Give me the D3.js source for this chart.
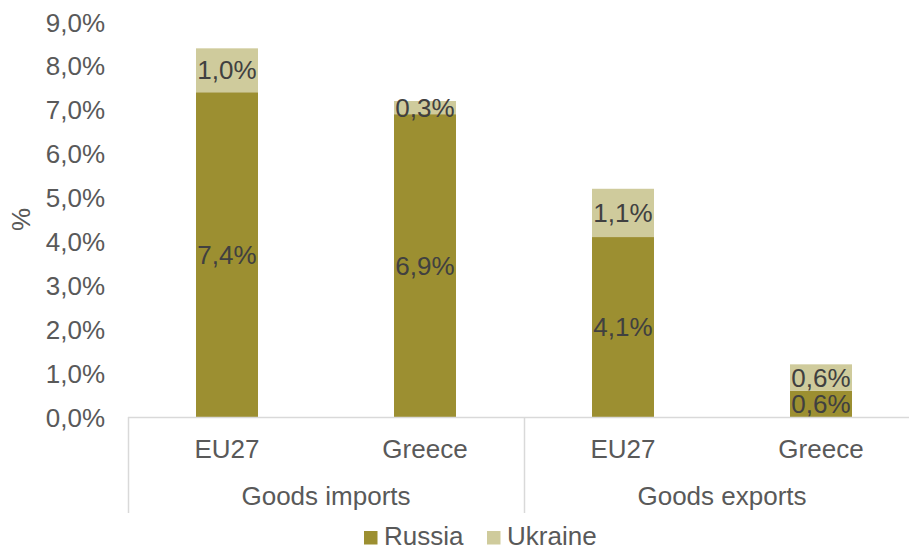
<!DOCTYPE html>
<html>
<head>
<meta charset="utf-8">
<script src="https://cdn.jsdelivr.net/npm/d3@7"></script>
<style>
  html, body { margin: 0; padding: 0; background: #fff; }
  svg { display: block; font-family: "Liberation Sans", Arial, sans-serif; }
</style>
</head>
<body>
<svg id="chart" width="909" height="550"></svg>
<script>
// Share of trade with Russia and Ukraine (% of total goods trade)
const groups = ["Goods imports", "Goods exports"];
const categories = ["EU27", "Greece", "EU27", "Greece"];
const groupOf = [0, 0, 1, 1];
const russia = [7.4, 6.9, 4.1, 0.6];
const ukraine = [1.0, 0.3, 1.1, 0.6];
const seriesNames = ["Russia", "Ukraine"];
const yTicks = [0, 1, 2, 3, 4, 5, 6, 7, 8, 9];

const colors = { Russia: "#9c8f31", Ukraine: "#cfcb9c" };
const axisText = "#595959";
const labelText = "#404040";
const fontSize = "26px";

const svg = d3.select("#chart");
const plot = { left: 128, right: 920, top: 22, bottom: 417 };

const rows = categories.map((c, i) => ({ key: i, cat: c, group: groupOf[i], Russia: russia[i], Ukraine: ukraine[i] }));
const stacked = d3.stack().keys(seriesNames)(rows);

const x = d3.scaleBand().domain(rows.map(d => d.key)).range([plot.left, plot.right]).paddingInner(0.687).paddingOuter(0.3435);
const y = d3.scaleLinear().domain([0, 9]).range([plot.bottom, plot.top]);
const fmt = v => d3.format(".1f")(v).replace(".", ",") + "%";

// Y axis labels
const yAxis = d3.axisLeft(y).tickValues(yTicks).tickFormat(fmt).tickSize(0).tickPadding(0);
const gy = svg.append("g").attr("transform", "translate(105,0)").call(yAxis);
gy.select(".domain").remove();
gy.selectAll("text").attr("fill", axisText).style("font-size", fontSize)
  .attr("font-family", "Liberation Sans, Arial, sans-serif").attr("dy", "0.35em");

// Y axis title
svg.append("text").attr("transform", `translate(30,${(plot.top + plot.bottom) / 2}) rotate(-90)`)
  .attr("text-anchor", "middle").attr("fill", axisText).style("font-size", fontSize).text("%");

// Bars
const layer = svg.append("g").selectAll("g").data(stacked).join("g")
  .attr("fill", d => colors[d.key]);
layer.selectAll("rect").data(d => d).join("rect")
  .attr("x", d => x(d.data.key))
  .attr("width", x.bandwidth())
  .attr("y", d => y(d[1]))
  .attr("height", d => y(d[0]) - y(d[1]));

// Data labels
const lbl = svg.append("g");
stacked.forEach(s => {
  s.forEach(d => {
    lbl.append("text")
      .attr("x", x(d.data.key) + x.bandwidth() / 2)
      .attr("y", (y(d[0]) + y(d[1])) / 2)
      .attr("dy", "0.35em")
      .attr("text-anchor", "middle")
      .attr("fill", labelText)
      .style("font-size", fontSize)
      .text(fmt(d[1] - d[0]));
  });
});

// X axis: baseline, category labels and group separators
const axisColor = "#d9d9d9";
svg.append("line").attr("x1", plot.left).attr("x2", plot.right)
  .attr("y1", plot.bottom + 0.5).attr("y2", plot.bottom + 0.5)
  .attr("stroke", axisColor).attr("stroke-width", 1.5);

const bandStep = x.step();
const groupBounds = groups.map((g, gi) => {
  const idx = rows.filter(r => r.group === gi).map(r => r.key);
  const x0 = x(idx[0]) - x.paddingInner() * bandStep / 2;
  const x1 = x(idx[idx.length - 1]) + x.bandwidth() + x.paddingInner() * bandStep / 2;
  return { name: g, x0, x1 };
});

const sepXs = [groupBounds[0].x0, groupBounds[1].x0, groupBounds[1].x1];
svg.append("g").selectAll("line").data(sepXs).join("line")
  .attr("x1", d => Math.round(d) + 0.5).attr("x2", d => Math.round(d) + 0.5)
  .attr("y1", plot.bottom).attr("y2", 513)
  .attr("stroke", axisColor).attr("stroke-width", 1.5);

svg.append("g").selectAll("text").data(rows).join("text")
  .attr("x", d => x(d.key) + x.bandwidth() / 2)
  .attr("y", 449).attr("dy", "0.35em")
  .attr("text-anchor", "middle").attr("fill", axisText).style("font-size", fontSize)
  .text(d => d.cat);

svg.append("g").selectAll("text").data(groupBounds).join("text")
  .attr("x", d => (d.x0 + d.x1) / 2)
  .attr("y", 496).attr("dy", "0.35em")
  .attr("text-anchor", "middle").attr("fill", axisText).style("font-size", fontSize)
  .text(d => d.name);

// Legend
const legendItems = [{ name: "Russia", x: 364 }, { name: "Ukraine", x: 487 }];
const lg = svg.append("g").selectAll("g").data(legendItems).join("g")
  .attr("transform", d => `translate(${d.x},531)`);
lg.append("rect").attr("width", 13.5).attr("height", 13.5).attr("fill", d => colors[d.name]);
lg.append("text").attr("x", 20).attr("y", 13.5)
  .attr("fill", axisText).style("font-size", fontSize).text(d => d.name);
</script>
</body>
</html>
